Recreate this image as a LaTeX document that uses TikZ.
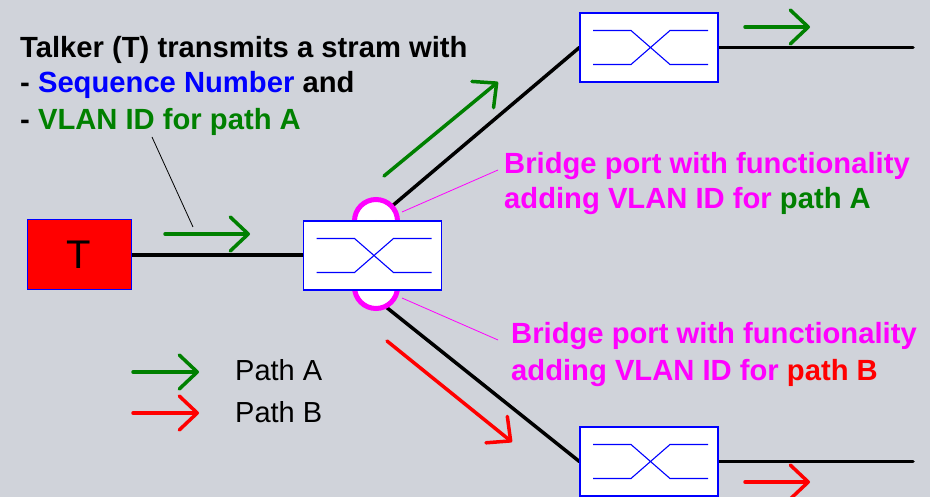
\documentclass[tikz,border=0pt]{standalone}
\usepackage{fontspec}
\setmainfont{Liberation Sans}
\usetikzlibrary{arrows.meta}
\definecolor{bgc}{RGB}{208,211,218}
\definecolor{pgreen}{RGB}{0,128,0}
\definecolor{pmag}{RGB}{255,0,255}
\definecolor{pred}{RGB}{255,0,0}
\definecolor{pblue}{RGB}{0,0,255}
\pgfdeclarelayer{back}
\pgfsetlayers{back,main}
\newcommand\bridgex[1]{%
  \draw[pblue, line width=1.1pt]
    ([shift={(-56,17)}]#1.center) -- ++(38,0) -- ++(39,-34) -- ++(38,0)
    ([shift={(-56,-17)}]#1.center) -- ++(38,0) -- ++(39,34) -- ++(38,0);}
\begin{document}
\begin{tikzpicture}[x=1pt,y=1pt,
  bridge/.style={draw=pblue, line width=1.2pt, fill=white, minimum width=138pt, minimum height=69pt, inner sep=0pt},
  port/.style={draw=pmag, line width=5pt, fill=white, minimum width=43pt, minimum height=86pt, rounded corners=21.5pt, inner sep=0pt},
  link/.style={line width=3.5pt, black, line cap=round},
  flowA/.style={pgreen, line width=3.5pt, line cap=round, -{Straight Barb[length=18pt,width=34pt,line cap=round,line join=round]}},
  flowB/.style={flowA, pred},
  callout/.style={line width=0.8pt},
  big/.style={font=\fontsize{29.2}{34}\selectfont\bfseries, inner sep=0pt, anchor=base west},
  legtext/.style={font=\fontsize{29}{34}\selectfont, inner sep=0pt, anchor=base west}
]
\useasboundingbox (0,0) rectangle (930,-497);

% nodes
\node[draw=pblue, line width=1pt, fill=pred, minimum width=104pt, minimum height=70pt, inner sep=0pt,
      font=\fontsize{40}{48}\selectfont] (T) at (79,-255) {T};
\node[port] (portA) at (376,-242.5) {};
\node[port] (portB) at (376,-265.5) {};
\node[bridge] (brM) at (372.5,-255.5) {};
\node[bridge] (brA) at (649,-47.5) {};
\node[bridge] (brB) at (649,-461.5) {};
\bridgex{brM}
\bridgex{brA}
\bridgex{brB}

\coordinate (aOut) at (378,-218);
\coordinate (bOut) at (376,-299);
\coordinate (endA) at (913,-47.5);
\coordinate (endB) at (913,-461.5);

\begin{pgfonlayer}{back}
  \fill[bgc] (0,0) rectangle (930,-497);
  \draw[link] (T.east) -- (brM.west |- T.east);
  \draw[link] (aOut) -- (brA.west);
  \draw[link] (bOut) -- (brB.west);
  \draw[link] (brA.east) -- (endA);
  \draw[link] (brB.east) -- (endB);
\end{pgfonlayer}

% texts
\node[big] (t1) at (20,-58) {Talker (T) transmits a stram with};
\node[big] (t2) at (20,-93) {- \textcolor{pblue}{Sequence Number} and};
\node[big] (t3) at (20,-130) {- \textcolor{pgreen}{VLAN ID for path A}};
\node[big, text=pmag] (ma1) at (504,-174) {Bridge port with functionality};
\node[big, text=pmag] (ma2) at (504,-209) {adding VLAN ID for \textcolor{pgreen}{path A}};
\node[big, text=pmag] (mb1) at (511,-344) {Bridge port with functionality};
\node[big, text=pmag] (mb2) at (511,-381) {adding VLAN ID for \textcolor{pred}{path B}};
\node[legtext] (la) at (235,-381) {Path A};
\node[legtext] (lb) at (235,-422) {Path B};

% callouts
\coordinate (c1s) at (152,-137);
\coordinate (c1e) at (193,-227);
\draw[callout] (c1s) -- (c1e);
\coordinate (c2s) at (402,-212);
\coordinate (c2e) at (498,-170);
\draw[callout, pmag] (c2s) -- (c2e);
\coordinate (c3s) at (402,-298);
\coordinate (c3e) at (498,-340);
\draw[callout, pmag] (c3s) -- (c3e);

% flow arrows
\coordinate (f1s) at (165,-234);  \coordinate (f1e) at (250,-234);
\coordinate (f2s) at (384,-176);  \coordinate (f2e) at (498,-82);
\coordinate (f3s) at (745,-27);   \coordinate (f3e) at (810,-27);
\coordinate (f4s) at (387,-341);  \coordinate (f4e) at (512,-442);
\coordinate (f5s) at (745,-482);  \coordinate (f5e) at (810,-482);
\coordinate (f6s) at (133,-372);  \coordinate (f6e) at (199,-372);
\coordinate (f7s) at (133,-413);  \coordinate (f7e) at (199,-413);
\draw[flowA] (f1s) -- (f1e);
\draw[flowA] (f2s) -- (f2e);
\draw[flowA] (f3s) -- (f3e);
\draw[flowB] (f4s) -- (f4e);
\draw[flowB] (f5s) -- (f5e);
\draw[flowA] (f6s) -- (f6e);
\draw[flowB] (f7s) -- (f7e);
\end{tikzpicture}
\end{document}
